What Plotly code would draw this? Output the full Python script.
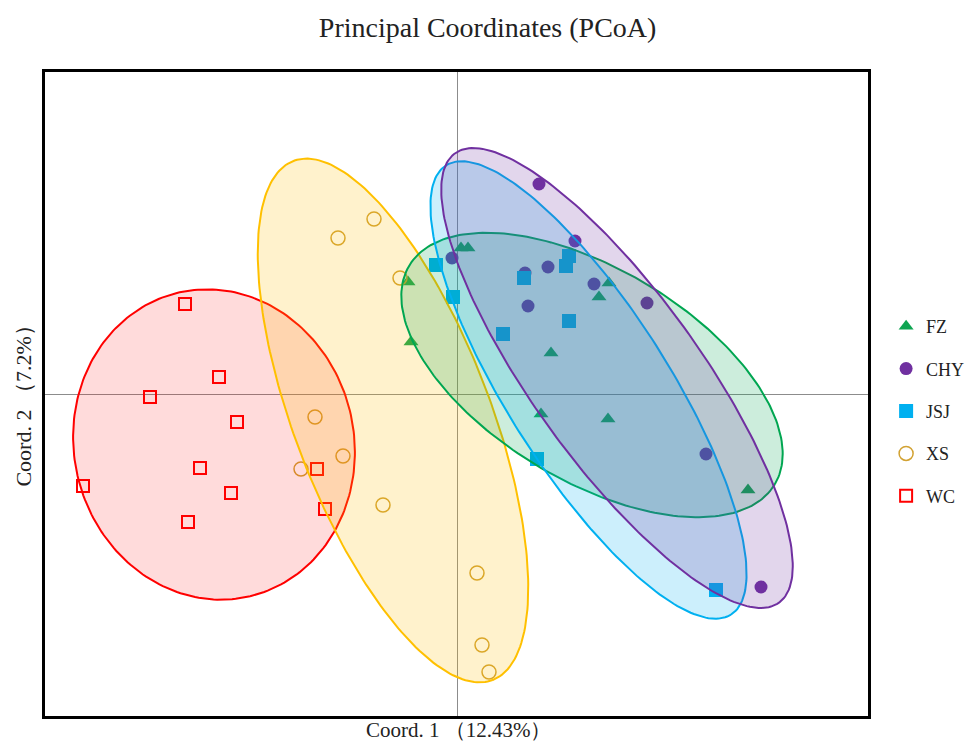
import numpy as np
import plotly.graph_objects as go

# ---- data ----
groups = ["FZ", "CHY", "JSJ", "XS", "WC"]

fz_x = [0.004, 0.011, -0.049, -0.046, 0.152, 0.142, 0.094, 0.084, 0.151, 0.291]
fz_y = [0.146, 0.146, 0.112, 0.052, 0.111, 0.097, 0.041, -0.020, -0.025, -0.096]

chy_x = [0.082, 0.118, -0.005, 0.091, 0.068, 0.137, 0.071, 0.190, 0.249, 0.304]
chy_y = [0.210, 0.153, 0.136, 0.127, 0.121, 0.110, 0.088, 0.091, -0.060, -0.193]

jsj_x = [-0.021, -0.004, 0.112, 0.109, 0.067, 0.112, 0.046, 0.080, 0.259]
jsj_y = [0.129, 0.097, 0.138, 0.128, 0.116, 0.073, 0.060, -0.065, -0.196]

xs_x = [-0.142, -0.114, -0.156, -0.083, -0.119, -0.057, -0.074, 0.020, 0.025, 0.032]
xs_y = [-0.023, -0.062, -0.075, 0.175, 0.156, 0.116, -0.111, -0.179, -0.251, -0.278]

wc_x = [-0.272, -0.238, -0.307, -0.220, -0.257, -0.374, -0.226, -0.269, -0.140, -0.132]
wc_y = [0.090, 0.017, -0.003, -0.028, -0.074, -0.092, -0.099, -0.128, -0.075, -0.115]

# confidence ellipses: centre x, centre y, semi-major, semi-minor, angle (deg)
ell_wc = [-0.243, -0.0505, 0.156, 0.140, -76.6]
ell_xs = [-0.064, -0.0265, 0.278, 0.098, -69.0]
ell_fz = [0.135, 0.019, 0.213, 0.106, -30.9]
ell_jsj = [0.1315, 0.004, 0.266, 0.081, -57.6]
ell_chy = [0.160, 0.016, 0.277, 0.084, -54.2]

x_label = "Coord. 1 （12.43%）"
y_label = "Coord. 2 （7.2%）"
title = "Principal Coordinates (PCoA)"

# ---- styles ----
serif = "Liberation Serif, Times New Roman, serif"

fig = go.Figure()

point_specs = [
    ("FZ", fz_x, fz_y, dict(symbol="triangle-up", size=13, color="#0fa552")),
    ("CHY", chy_x, chy_y, dict(symbol="circle", size=13, color="#7030a0")),
    ("JSJ", jsj_x, jsj_y, dict(symbol="square", size=14, color="#00b0f0")),
    ("XS", xs_x, xs_y, dict(symbol="circle-open", size=14, color="#d2a233",
                             line=dict(width=1.5, color="#d2a233"))),
    ("WC", wc_x, wc_y, dict(symbol="square-open", size=12, color="#ff0000",
                             line=dict(width=2, color="#ff0000"))),
]
for name, xs, ys, mk in point_specs:
    fig.add_trace(go.Scatter(x=xs, y=ys, mode="markers", name=name, marker=mk,
                             legendgroup=name))


def ellipse(params, n=240):
    cx, cy, a, b, ang = params
    t = np.linspace(0, 2 * np.pi, n)
    th = np.deg2rad(ang)
    ex = cx + a * np.cos(th) * np.cos(t) - b * np.sin(th) * np.sin(t)
    ey = cy + a * np.sin(th) * np.cos(t) + b * np.cos(th) * np.sin(t)
    return ex, ey


ell_specs = [
    (ell_wc, "#ff0000", "rgba(255,0,0,0.14)"),
    (ell_xs, "#ffc000", "rgba(255,192,0,0.2)"),
    (ell_fz, "#00a651", "rgba(0,166,81,0.2)"),
    (ell_jsj, "#00b0f0", "rgba(0,176,240,0.2)"),
    (ell_chy, "#7030a0", "rgba(112,48,160,0.2)"),
]
for params, lc, fc in ell_specs:
    ex, ey = ellipse(params)
    fig.add_trace(go.Scatter(x=ex, y=ey, mode="lines", fill="toself",
                             line=dict(color=lc, width=2), fillcolor=fc,
                             showlegend=False, hoverinfo="skip"))

axis_common = dict(showgrid=False, showticklabels=False, ticks="",
                   showline=True, mirror=True, linecolor="black", linewidth=2.5,
                   zeroline=True, zerolinecolor="#8c8c8c", zerolinewidth=1)

fig.update_layout(
    width=965, height=736,
    margin=dict(l=37, r=105, t=64, b=28, autoexpand=False),
    paper_bgcolor="white", plot_bgcolor="white",
    title=dict(text=title, x=0.497, xref="container", xanchor="center", y=0.974,
               yref="container", yanchor="middle",
               font=dict(family=serif, size=28, color="#222")),
    xaxis=dict(range=[-0.412, 0.411], **axis_common),
    yaxis=dict(range=[-0.322, 0.322], **axis_common),
    legend=dict(x=1.022, xanchor="left", y=0.4736, yanchor="middle",
                traceorder="grouped", tracegroupgap=16,
                font=dict(family=serif, size=18, color="#222"),
                bgcolor="rgba(0,0,0,0)"),
    annotations=[
        dict(text=x_label, xref="paper", yref="paper", x=0.503, y=0,
             xanchor="center", yanchor="top", yshift=0, showarrow=False,
             font=dict(family=serif, size=21, color="#222")),
        dict(text=y_label, xref="paper", yref="paper", x=0, y=0.489,
             xanchor="right", yanchor="middle", xshift=-7, textangle=-90,
             showarrow=False, font=dict(family=serif, size=22, color="#222")),
    ],
)

fig.write_html("out.html")
